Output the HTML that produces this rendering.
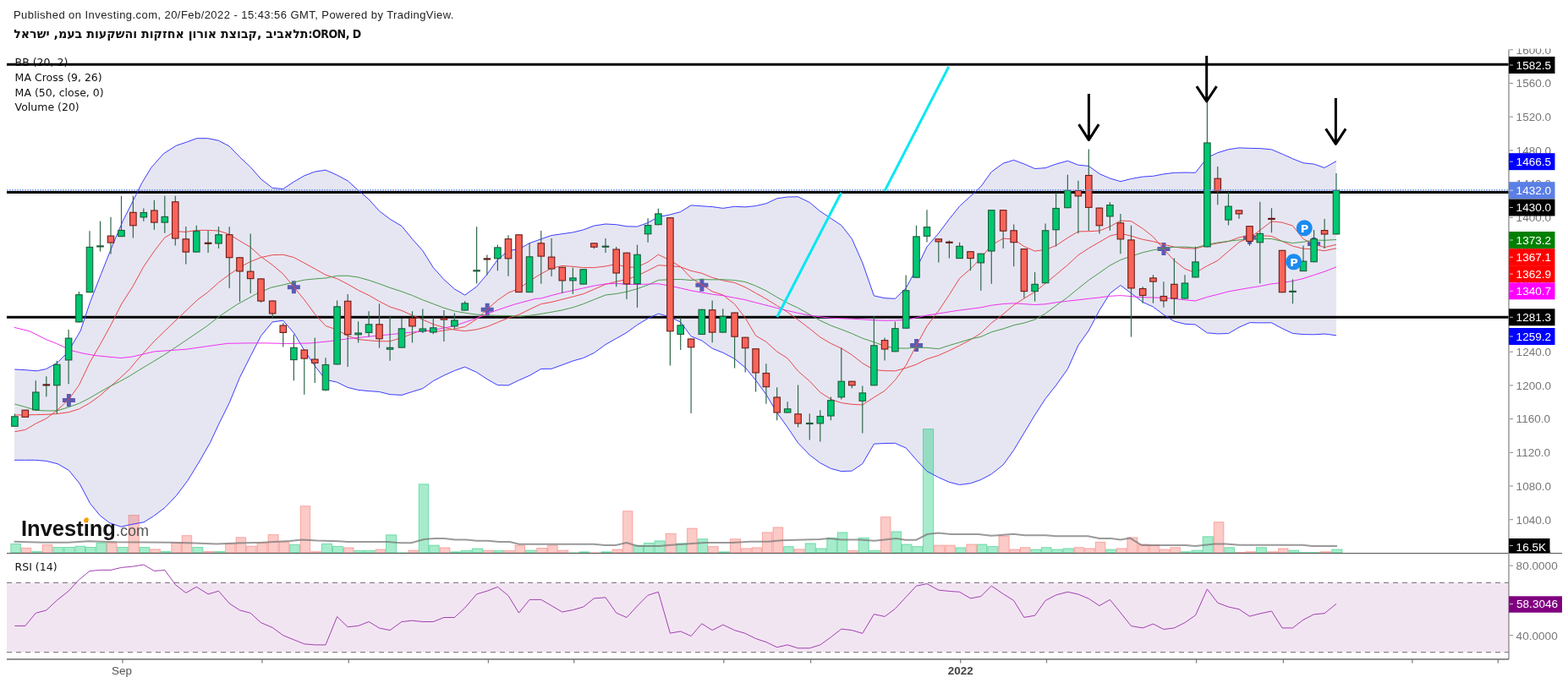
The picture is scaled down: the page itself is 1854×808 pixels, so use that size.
<!DOCTYPE html>
<html><head><meta charset="utf-8"><title>ORON chart</title>
<style>
html,body{margin:0;padding:0;background:#fff;}
body{width:1854px;height:808px;position:relative;overflow:hidden;}
svg{position:absolute;left:0;top:0;}
</style></head>
<body>
<svg width="1854" height="808" viewBox="0 0 1854 808">
<defs><clipPath id="cm"><rect x="8" y="57.5" width="1776" height="596.5"/></clipPath><clipPath id="cr"><rect x="8" y="654.5" width="1776" height="125"/></clipPath><clipPath id="ca"><rect x="1784" y="57.5" width="70" height="596.5"/></clipPath></defs>
<g clip-path="url(#cm)">
<polygon points="17.3,437.0 30.3,437.7 43.3,438.8 54.4,436.6 67.4,429.5 80.4,416.5 95.2,391.3 106.4,357.9 119.4,324.5 134.2,287.3 145.3,261.4 156.5,239.1 167.6,216.8 178.8,198.3 193.6,181.6 208.4,172.3 221.4,167.8 232.6,163.7 245.6,163.7 258.5,166.3 271.2,173.1 283.5,185.8 296.2,197.7 308.5,211.8 322.2,222.4 334.8,223.5 347.4,215.1 359.8,207.9 372.3,203.1 385.0,201.2 398.6,207.2 411.2,213.9 423.6,225.2 436.1,235.9 448.5,249.6 461.1,259.2 475.0,267.5 487.5,282.8 499.8,296.6 512.3,316.6 524.9,330.6 537.4,341.9 549.7,349.1 563.6,339.1 575.9,324.5 588.4,307.3 601.0,296.5 613.5,294.8 626.1,287.7 639.8,282.8 652.1,278.5 664.8,276.7 677.4,274.9 689.7,271.9 702.4,267.1 716.0,265.0 728.7,265.7 741.0,267.8 753.5,268.1 766.1,263.5 778.4,256.6 792.4,253.9 804.7,250.6 817.1,242.9 829.8,243.8 842.2,244.6 854.8,246.4 868.6,244.3 881.2,244.9 893.6,243.6 905.9,240.8 918.7,234.8 931.2,233.0 943.6,232.8 957.3,239.5 969.8,250.0 982.4,258.4 994.8,266.5 1007.3,282.5 1019.8,310.9 1033.4,349.9 1046.1,352.7 1058.4,353.3 1071.2,340.9 1083.5,318.1 1096.0,292.0 1109.8,276.0 1122.4,259.2 1134.6,244.0 1147.5,232.1 1159.8,220.7 1172.3,203.3 1186.2,193.2 1198.7,189.4 1210.9,194.0 1223.6,199.5 1236.1,198.7 1248.6,194.1 1262.4,190.3 1274.9,195.2 1287.3,196.4 1299.9,205.6 1312.4,211.0 1324.9,214.7 1337.5,211.5 1351.2,209.1 1363.5,208.3 1375.9,205.9 1388.4,204.4 1401.0,204.1 1413.5,204.3 1427.4,186.5 1439.8,180.7 1452.5,176.8 1465.0,174.9 1477.5,175.4 1489.8,175.6 1503.5,176.9 1516.1,182.2 1528.5,187.8 1541.0,192.8 1553.6,194.1 1566.1,198.5 1580.0,190.7 1580.0,396.8 1566.1,395.0 1553.6,395.8 1541.0,395.6 1528.5,394.4 1516.1,388.6 1503.5,381.8 1489.8,381.9 1477.5,381.7 1465.0,387.2 1452.5,394.5 1439.8,394.9 1427.4,393.8 1413.5,384.0 1401.0,383.3 1388.4,380.1 1375.9,372.3 1363.5,363.0 1351.2,357.4 1337.5,346.9 1324.9,337.5 1312.4,347.1 1299.9,367.2 1287.3,391.0 1274.9,408.5 1262.4,436.5 1248.6,455.9 1236.1,471.7 1223.6,491.0 1210.9,512.1 1198.7,532.4 1186.2,549.9 1172.3,560.8 1159.8,567.5 1147.5,571.8 1134.6,573.5 1122.4,570.4 1109.8,564.8 1096.0,557.5 1083.5,544.0 1071.2,529.9 1058.4,524.3 1046.1,524.5 1033.4,525.2 1019.8,548.6 1007.3,557.1 994.8,557.6 982.4,554.3 969.8,547.7 957.3,538.2 943.6,524.0 931.2,505.5 918.7,488.2 905.9,466.7 893.6,449.8 881.2,434.8 868.6,424.5 854.8,417.2 842.2,412.2 829.8,402.9 817.1,397.8 804.7,381.1 792.4,375.1 778.4,371.1 766.1,376.7 753.5,384.3 741.0,393.4 728.7,400.4 716.0,407.6 702.4,417.5 689.7,423.5 677.4,427.0 664.8,431.7 652.1,436.3 639.8,436.4 626.1,444.3 613.5,449.8 601.0,455.9 588.4,455.6 575.9,448.5 563.6,440.4 549.7,434.1 537.4,438.5 524.9,444.1 512.3,450.7 499.8,459.6 487.5,463.4 475.0,467.4 461.1,466.7 448.5,463.5 436.1,462.6 423.6,461.4 411.2,458.4 398.6,452.2 385.0,449.2 372.3,432.9 359.8,414.3 347.4,393.8 334.8,379.2 322.2,380.9 308.5,397.4 296.2,421.4 283.5,446.6 271.2,476.5 258.5,502.1 248.5,523.6 235.1,547.0 221.8,568.7 208.4,586.4 195.0,600.5 181.7,610.5 170.0,617.8 155.0,620.5 143.3,623.2 129.9,618.8 118.2,609.8 106.5,595.5 94.2,572.1 81.5,556.4 68.1,548.7 54.8,545.4 41.4,544.3 29.7,544.3 17.0,544.3" fill="#e6e6f2"/>
<rect x="12.8" y="643.4" width="11.5" height="10.6" fill="rgba(0,200,110,0.35)" stroke="rgba(0,190,100,0.45)" stroke-width="1"/>
<rect x="25.3" y="648.3" width="11.4" height="5.7" fill="rgba(245,80,70,0.3)" stroke="rgba(240,80,70,0.4)" stroke-width="1"/>
<rect x="37.8" y="652.4" width="11.5" height="1.6" fill="rgba(0,200,110,0.35)" stroke="rgba(0,190,100,0.45)" stroke-width="1"/>
<rect x="50.2" y="644.4" width="11.5" height="9.6" fill="rgba(245,80,70,0.3)" stroke="rgba(240,80,70,0.4)" stroke-width="1"/>
<rect x="62.8" y="647.5" width="12.1" height="6.5" fill="rgba(0,200,110,0.35)" stroke="rgba(0,190,100,0.45)" stroke-width="1"/>
<rect x="75.9" y="647.5" width="12.1" height="6.5" fill="rgba(0,200,110,0.35)" stroke="rgba(0,190,100,0.45)" stroke-width="1"/>
<rect x="89.0" y="646.2" width="11.5" height="7.8" fill="rgba(0,200,110,0.35)" stroke="rgba(0,190,100,0.45)" stroke-width="1"/>
<rect x="101.4" y="647.5" width="11.5" height="6.5" fill="rgba(0,200,110,0.35)" stroke="rgba(0,190,100,0.45)" stroke-width="1"/>
<rect x="114.0" y="642.3" width="11.5" height="11.7" fill="rgba(0,200,110,0.35)" stroke="rgba(0,190,100,0.45)" stroke-width="1"/>
<rect x="126.5" y="642.3" width="11.5" height="11.7" fill="rgba(245,80,70,0.3)" stroke="rgba(240,80,70,0.4)" stroke-width="1"/>
<rect x="138.9" y="647.5" width="12.2" height="6.5" fill="rgba(0,200,110,0.35)" stroke="rgba(0,190,100,0.45)" stroke-width="1"/>
<rect x="152.1" y="609.5" width="12.2" height="44.5" fill="rgba(245,80,70,0.3)" stroke="rgba(240,80,70,0.4)" stroke-width="1"/>
<rect x="165.3" y="647.5" width="11.5" height="6.5" fill="rgba(0,200,110,0.35)" stroke="rgba(0,190,100,0.45)" stroke-width="1"/>
<rect x="177.8" y="649.8" width="11.5" height="4.2" fill="rgba(245,80,70,0.3)" stroke="rgba(240,80,70,0.4)" stroke-width="1"/>
<rect x="190.3" y="652.4" width="11.4" height="1.6" fill="rgba(0,200,110,0.35)" stroke="rgba(0,190,100,0.45)" stroke-width="1"/>
<rect x="202.8" y="642.3" width="11.5" height="11.7" fill="rgba(245,80,70,0.3)" stroke="rgba(240,80,70,0.4)" stroke-width="1"/>
<rect x="215.2" y="633.6" width="11.5" height="20.4" fill="rgba(245,80,70,0.3)" stroke="rgba(240,80,70,0.4)" stroke-width="1"/>
<rect x="227.8" y="647.5" width="12.1" height="6.5" fill="rgba(0,200,110,0.35)" stroke="rgba(0,190,100,0.45)" stroke-width="1"/>
<rect x="240.9" y="652.4" width="12.1" height="1.6" fill="rgba(245,80,70,0.3)" stroke="rgba(240,80,70,0.4)" stroke-width="1"/>
<rect x="254.0" y="652.4" width="11.6" height="1.6" fill="rgba(0,200,110,0.35)" stroke="rgba(0,190,100,0.45)" stroke-width="1"/>
<rect x="266.6" y="643.4" width="11.5" height="10.6" fill="rgba(245,80,70,0.3)" stroke="rgba(240,80,70,0.4)" stroke-width="1"/>
<rect x="279.1" y="635.8" width="11.5" height="18.2" fill="rgba(245,80,70,0.3)" stroke="rgba(240,80,70,0.4)" stroke-width="1"/>
<rect x="291.6" y="646.2" width="11.5" height="7.8" fill="rgba(245,80,70,0.3)" stroke="rgba(240,80,70,0.4)" stroke-width="1"/>
<rect x="304.1" y="642.3" width="12.0" height="11.7" fill="rgba(245,80,70,0.3)" stroke="rgba(240,80,70,0.4)" stroke-width="1"/>
<rect x="317.1" y="632.6" width="12.1" height="21.4" fill="rgba(245,80,70,0.3)" stroke="rgba(240,80,70,0.4)" stroke-width="1"/>
<rect x="330.2" y="641.2" width="11.6" height="12.8" fill="rgba(245,80,70,0.3)" stroke="rgba(240,80,70,0.4)" stroke-width="1"/>
<rect x="342.8" y="644.4" width="11.5" height="9.6" fill="rgba(0,200,110,0.35)" stroke="rgba(0,190,100,0.45)" stroke-width="1"/>
<rect x="355.3" y="598.7" width="11.4" height="55.3" fill="rgba(245,80,70,0.3)" stroke="rgba(240,80,70,0.4)" stroke-width="1"/>
<rect x="367.8" y="652.6" width="11.6" height="1.4" fill="rgba(245,80,70,0.3)" stroke="rgba(240,80,70,0.4)" stroke-width="1"/>
<rect x="380.3" y="643.4" width="12.2" height="10.6" fill="rgba(0,200,110,0.35)" stroke="rgba(0,190,100,0.45)" stroke-width="1"/>
<rect x="393.5" y="646.4" width="12.1" height="7.6" fill="rgba(0,200,110,0.35)" stroke="rgba(0,190,100,0.45)" stroke-width="1"/>
<rect x="406.6" y="647.9" width="11.5" height="6.1" fill="rgba(245,80,70,0.3)" stroke="rgba(240,80,70,0.4)" stroke-width="1"/>
<rect x="419.1" y="651.5" width="11.5" height="2.5" fill="rgba(0,200,110,0.35)" stroke="rgba(0,190,100,0.45)" stroke-width="1"/>
<rect x="431.6" y="651.5" width="11.4" height="2.5" fill="rgba(0,200,110,0.35)" stroke="rgba(0,190,100,0.45)" stroke-width="1"/>
<rect x="444.0" y="650.0" width="11.5" height="4.0" fill="rgba(245,80,70,0.3)" stroke="rgba(240,80,70,0.4)" stroke-width="1"/>
<rect x="456.5" y="632.8" width="12.2" height="21.2" fill="rgba(0,200,110,0.35)" stroke="rgba(0,190,100,0.45)" stroke-width="1"/>
<rect x="469.8" y="653.9" width="12.2" height="0.5" fill="rgba(0,200,110,0.35)" stroke="rgba(0,190,100,0.45)" stroke-width="1"/>
<rect x="482.9" y="651.1" width="11.4" height="2.9" fill="rgba(245,80,70,0.3)" stroke="rgba(240,80,70,0.4)" stroke-width="1"/>
<rect x="495.3" y="572.8" width="11.4" height="81.2" fill="rgba(0,200,110,0.35)" stroke="rgba(0,190,100,0.45)" stroke-width="1"/>
<rect x="507.7" y="645.1" width="11.5" height="8.9" fill="rgba(0,200,110,0.35)" stroke="rgba(0,190,100,0.45)" stroke-width="1"/>
<rect x="520.3" y="647.9" width="11.6" height="6.1" fill="rgba(245,80,70,0.3)" stroke="rgba(240,80,70,0.4)" stroke-width="1"/>
<rect x="532.9" y="652.8" width="11.4" height="1.2" fill="rgba(0,200,110,0.35)" stroke="rgba(0,190,100,0.45)" stroke-width="1"/>
<rect x="545.2" y="651.5" width="12.1" height="2.5" fill="rgba(0,200,110,0.35)" stroke="rgba(0,190,100,0.45)" stroke-width="1"/>
<rect x="558.4" y="649.0" width="12.1" height="5.0" fill="rgba(0,200,110,0.35)" stroke="rgba(0,190,100,0.45)" stroke-width="1"/>
<rect x="571.5" y="651.1" width="11.4" height="2.9" fill="rgba(245,80,70,0.3)" stroke="rgba(240,80,70,0.4)" stroke-width="1"/>
<rect x="583.9" y="651.5" width="11.6" height="2.5" fill="rgba(0,200,110,0.35)" stroke="rgba(0,190,100,0.45)" stroke-width="1"/>
<rect x="596.4" y="651.5" width="11.5" height="2.5" fill="rgba(245,80,70,0.3)" stroke="rgba(240,80,70,0.4)" stroke-width="1"/>
<rect x="609.0" y="645.1" width="11.5" height="8.9" fill="rgba(245,80,70,0.3)" stroke="rgba(240,80,70,0.4)" stroke-width="1"/>
<rect x="621.5" y="651.1" width="12.2" height="2.9" fill="rgba(0,200,110,0.35)" stroke="rgba(0,190,100,0.45)" stroke-width="1"/>
<rect x="634.7" y="648.5" width="12.0" height="5.5" fill="rgba(245,80,70,0.3)" stroke="rgba(240,80,70,0.4)" stroke-width="1"/>
<rect x="647.7" y="645.1" width="11.5" height="8.9" fill="rgba(245,80,70,0.3)" stroke="rgba(240,80,70,0.4)" stroke-width="1"/>
<rect x="660.2" y="651.1" width="11.6" height="2.9" fill="rgba(245,80,70,0.3)" stroke="rgba(240,80,70,0.4)" stroke-width="1"/>
<rect x="672.8" y="653.9" width="11.5" height="0.5" fill="rgba(0,200,110,0.35)" stroke="rgba(0,190,100,0.45)" stroke-width="1"/>
<rect x="685.2" y="652.8" width="11.5" height="1.2" fill="rgba(0,200,110,0.35)" stroke="rgba(0,190,100,0.45)" stroke-width="1"/>
<rect x="697.8" y="653.9" width="12.2" height="0.5" fill="rgba(245,80,70,0.3)" stroke="rgba(240,80,70,0.4)" stroke-width="1"/>
<rect x="710.9" y="652.8" width="12.1" height="1.2" fill="rgba(0,200,110,0.35)" stroke="rgba(0,190,100,0.45)" stroke-width="1"/>
<rect x="724.1" y="650.0" width="11.5" height="4.0" fill="rgba(245,80,70,0.3)" stroke="rgba(240,80,70,0.4)" stroke-width="1"/>
<rect x="736.6" y="604.7" width="11.4" height="49.3" fill="rgba(245,80,70,0.3)" stroke="rgba(240,80,70,0.4)" stroke-width="1"/>
<rect x="749.0" y="645.1" width="11.5" height="8.9" fill="rgba(0,200,110,0.35)" stroke="rgba(0,190,100,0.45)" stroke-width="1"/>
<rect x="761.5" y="642.5" width="11.5" height="11.5" fill="rgba(0,200,110,0.35)" stroke="rgba(0,190,100,0.45)" stroke-width="1"/>
<rect x="774.0" y="639.9" width="12.1" height="14.1" fill="rgba(0,200,110,0.35)" stroke="rgba(0,190,100,0.45)" stroke-width="1"/>
<rect x="787.1" y="631.3" width="12.1" height="22.7" fill="rgba(245,80,70,0.3)" stroke="rgba(240,80,70,0.4)" stroke-width="1"/>
<rect x="800.2" y="642.9" width="11.4" height="11.1" fill="rgba(0,200,110,0.35)" stroke="rgba(0,190,100,0.45)" stroke-width="1"/>
<rect x="812.6" y="625.0" width="11.5" height="29.0" fill="rgba(245,80,70,0.3)" stroke="rgba(240,80,70,0.4)" stroke-width="1"/>
<rect x="825.2" y="637.7" width="11.5" height="16.3" fill="rgba(0,200,110,0.35)" stroke="rgba(0,190,100,0.45)" stroke-width="1"/>
<rect x="837.7" y="646.6" width="11.5" height="7.4" fill="rgba(245,80,70,0.3)" stroke="rgba(240,80,70,0.4)" stroke-width="1"/>
<rect x="850.2" y="652.8" width="12.2" height="1.2" fill="rgba(0,200,110,0.35)" stroke="rgba(0,190,100,0.45)" stroke-width="1"/>
<rect x="863.4" y="637.7" width="12.2" height="16.3" fill="rgba(245,80,70,0.3)" stroke="rgba(240,80,70,0.4)" stroke-width="1"/>
<rect x="876.6" y="648.9" width="11.5" height="5.1" fill="rgba(245,80,70,0.3)" stroke="rgba(240,80,70,0.4)" stroke-width="1"/>
<rect x="889.1" y="647.9" width="11.3" height="6.1" fill="rgba(245,80,70,0.3)" stroke="rgba(240,80,70,0.4)" stroke-width="1"/>
<rect x="901.5" y="629.9" width="11.5" height="24.1" fill="rgba(245,80,70,0.3)" stroke="rgba(240,80,70,0.4)" stroke-width="1"/>
<rect x="914.0" y="623.9" width="11.7" height="30.1" fill="rgba(245,80,70,0.3)" stroke="rgba(240,80,70,0.4)" stroke-width="1"/>
<rect x="926.7" y="646.6" width="11.5" height="7.4" fill="rgba(0,200,110,0.35)" stroke="rgba(0,190,100,0.45)" stroke-width="1"/>
<rect x="939.1" y="649.8" width="12.0" height="4.2" fill="rgba(245,80,70,0.3)" stroke="rgba(240,80,70,0.4)" stroke-width="1"/>
<rect x="952.2" y="642.9" width="12.1" height="11.1" fill="rgba(0,200,110,0.35)" stroke="rgba(0,190,100,0.45)" stroke-width="1"/>
<rect x="965.2" y="648.9" width="11.5" height="5.1" fill="rgba(0,200,110,0.35)" stroke="rgba(0,190,100,0.45)" stroke-width="1"/>
<rect x="977.8" y="636.4" width="11.5" height="17.6" fill="rgba(0,200,110,0.35)" stroke="rgba(0,190,100,0.45)" stroke-width="1"/>
<rect x="990.3" y="629.9" width="11.5" height="24.1" fill="rgba(0,200,110,0.35)" stroke="rgba(0,190,100,0.45)" stroke-width="1"/>
<rect x="1002.8" y="651.5" width="11.5" height="2.5" fill="rgba(245,80,70,0.3)" stroke="rgba(240,80,70,0.4)" stroke-width="1"/>
<rect x="1015.2" y="636.4" width="12.0" height="17.6" fill="rgba(0,200,110,0.35)" stroke="rgba(0,190,100,0.45)" stroke-width="1"/>
<rect x="1028.3" y="651.5" width="12.2" height="2.5" fill="rgba(0,200,110,0.35)" stroke="rgba(0,190,100,0.45)" stroke-width="1"/>
<rect x="1041.5" y="611.6" width="11.5" height="42.4" fill="rgba(245,80,70,0.3)" stroke="rgba(240,80,70,0.4)" stroke-width="1"/>
<rect x="1054.0" y="628.9" width="11.6" height="25.1" fill="rgba(0,200,110,0.35)" stroke="rgba(0,190,100,0.45)" stroke-width="1"/>
<rect x="1066.5" y="644.0" width="11.5" height="10.0" fill="rgba(0,200,110,0.35)" stroke="rgba(0,190,100,0.45)" stroke-width="1"/>
<rect x="1079.0" y="646.6" width="11.4" height="7.4" fill="rgba(0,200,110,0.35)" stroke="rgba(0,190,100,0.45)" stroke-width="1"/>
<rect x="1091.5" y="507.6" width="12.2" height="146.4" fill="rgba(0,200,110,0.35)" stroke="rgba(0,190,100,0.45)" stroke-width="1"/>
<rect x="1104.6" y="645.1" width="12.2" height="8.9" fill="rgba(245,80,70,0.3)" stroke="rgba(240,80,70,0.4)" stroke-width="1"/>
<rect x="1117.8" y="645.1" width="11.4" height="8.9" fill="rgba(245,80,70,0.3)" stroke="rgba(240,80,70,0.4)" stroke-width="1"/>
<rect x="1130.2" y="647.9" width="11.5" height="6.1" fill="rgba(0,200,110,0.35)" stroke="rgba(0,190,100,0.45)" stroke-width="1"/>
<rect x="1142.8" y="644.0" width="11.6" height="10.0" fill="rgba(245,80,70,0.3)" stroke="rgba(240,80,70,0.4)" stroke-width="1"/>
<rect x="1155.4" y="644.0" width="11.4" height="10.0" fill="rgba(0,200,110,0.35)" stroke="rgba(0,190,100,0.45)" stroke-width="1"/>
<rect x="1167.8" y="646.6" width="12.2" height="7.4" fill="rgba(0,200,110,0.35)" stroke="rgba(0,190,100,0.45)" stroke-width="1"/>
<rect x="1181.0" y="634.0" width="12.2" height="20.0" fill="rgba(245,80,70,0.3)" stroke="rgba(240,80,70,0.4)" stroke-width="1"/>
<rect x="1194.2" y="650.0" width="11.4" height="4.0" fill="rgba(245,80,70,0.3)" stroke="rgba(240,80,70,0.4)" stroke-width="1"/>
<rect x="1206.5" y="647.7" width="11.4" height="6.3" fill="rgba(245,80,70,0.3)" stroke="rgba(240,80,70,0.4)" stroke-width="1"/>
<rect x="1219.0" y="650.0" width="11.6" height="4.0" fill="rgba(0,200,110,0.35)" stroke="rgba(0,190,100,0.45)" stroke-width="1"/>
<rect x="1231.5" y="647.7" width="11.5" height="6.3" fill="rgba(0,200,110,0.35)" stroke="rgba(0,190,100,0.45)" stroke-width="1"/>
<rect x="1244.0" y="650.0" width="12.2" height="4.0" fill="rgba(0,200,110,0.35)" stroke="rgba(0,190,100,0.45)" stroke-width="1"/>
<rect x="1257.2" y="648.9" width="12.2" height="5.1" fill="rgba(0,200,110,0.35)" stroke="rgba(0,190,100,0.45)" stroke-width="1"/>
<rect x="1270.4" y="647.7" width="11.4" height="6.3" fill="rgba(245,80,70,0.3)" stroke="rgba(240,80,70,0.4)" stroke-width="1"/>
<rect x="1282.8" y="648.9" width="11.5" height="5.1" fill="rgba(245,80,70,0.3)" stroke="rgba(240,80,70,0.4)" stroke-width="1"/>
<rect x="1295.3" y="641.4" width="11.6" height="12.6" fill="rgba(245,80,70,0.3)" stroke="rgba(240,80,70,0.4)" stroke-width="1"/>
<rect x="1307.9" y="650.0" width="11.5" height="4.0" fill="rgba(0,200,110,0.35)" stroke="rgba(0,190,100,0.45)" stroke-width="1"/>
<rect x="1320.4" y="648.9" width="11.5" height="5.1" fill="rgba(245,80,70,0.3)" stroke="rgba(240,80,70,0.4)" stroke-width="1"/>
<rect x="1332.9" y="635.9" width="12.1" height="18.1" fill="rgba(245,80,70,0.3)" stroke="rgba(240,80,70,0.4)" stroke-width="1"/>
<rect x="1346.0" y="643.9" width="12.0" height="10.1" fill="rgba(245,80,70,0.3)" stroke="rgba(240,80,70,0.4)" stroke-width="1"/>
<rect x="1359.0" y="644.8" width="11.4" height="9.2" fill="rgba(245,80,70,0.3)" stroke="rgba(240,80,70,0.4)" stroke-width="1"/>
<rect x="1371.4" y="650.0" width="11.5" height="4.0" fill="rgba(245,80,70,0.3)" stroke="rgba(240,80,70,0.4)" stroke-width="1"/>
<rect x="1383.9" y="647.7" width="11.5" height="6.3" fill="rgba(245,80,70,0.3)" stroke="rgba(240,80,70,0.4)" stroke-width="1"/>
<rect x="1396.4" y="652.7" width="11.5" height="1.3" fill="rgba(0,200,110,0.35)" stroke="rgba(0,190,100,0.45)" stroke-width="1"/>
<rect x="1409.0" y="651.1" width="12.2" height="2.9" fill="rgba(0,200,110,0.35)" stroke="rgba(0,190,100,0.45)" stroke-width="1"/>
<rect x="1422.2" y="634.8" width="12.1" height="19.2" fill="rgba(0,200,110,0.35)" stroke="rgba(0,190,100,0.45)" stroke-width="1"/>
<rect x="1435.3" y="617.6" width="11.6" height="36.4" fill="rgba(245,80,70,0.3)" stroke="rgba(240,80,70,0.4)" stroke-width="1"/>
<rect x="1447.9" y="647.7" width="11.6" height="6.3" fill="rgba(0,200,110,0.35)" stroke="rgba(0,190,100,0.45)" stroke-width="1"/>
<rect x="1460.5" y="653.4" width="11.5" height="0.6" fill="rgba(245,80,70,0.3)" stroke="rgba(240,80,70,0.4)" stroke-width="1"/>
<rect x="1473.0" y="652.7" width="11.4" height="1.3" fill="rgba(245,80,70,0.3)" stroke="rgba(240,80,70,0.4)" stroke-width="1"/>
<rect x="1485.4" y="647.7" width="12.0" height="6.3" fill="rgba(0,200,110,0.35)" stroke="rgba(0,190,100,0.45)" stroke-width="1"/>
<rect x="1498.4" y="652.7" width="12.1" height="1.3" fill="rgba(245,80,70,0.3)" stroke="rgba(240,80,70,0.4)" stroke-width="1"/>
<rect x="1511.5" y="648.9" width="11.5" height="5.1" fill="rgba(245,80,70,0.3)" stroke="rgba(240,80,70,0.4)" stroke-width="1"/>
<rect x="1524.0" y="651.1" width="11.5" height="2.9" fill="rgba(0,200,110,0.35)" stroke="rgba(0,190,100,0.45)" stroke-width="1"/>
<rect x="1536.5" y="653.6" width="11.5" height="0.5" fill="rgba(0,200,110,0.35)" stroke="rgba(0,190,100,0.45)" stroke-width="1"/>
<rect x="1549.0" y="653.6" width="11.5" height="0.5" fill="rgba(0,200,110,0.35)" stroke="rgba(0,190,100,0.45)" stroke-width="1"/>
<rect x="1561.5" y="652.7" width="12.2" height="1.3" fill="rgba(245,80,70,0.3)" stroke="rgba(240,80,70,0.4)" stroke-width="1"/>
<rect x="1574.8" y="650.0" width="12.2" height="4.0" fill="rgba(0,200,110,0.35)" stroke="rgba(0,190,100,0.45)" stroke-width="1"/>
<polyline points="16.6,640.7 51.2,641.8 80.0,641.8 105.0,640.3 137.4,641.3 202.0,641.8 230.0,642.5 256.0,643.5 280.0,642.5 310.0,641.8 342.4,640.0 357.5,638.5 374.8,639.6 400.0,640.2 410.8,641.1 458.3,641.1 473.4,642.2 486.3,642.2 501.4,638.1 514.3,637.0 525.1,637.0 538.1,638.5 551.0,638.5 564.0,639.8 576.9,639.8 589.9,641.1 602.8,641.1 613.6,643.7 626.5,643.7 702.0,643.7 715.0,645.0 728.0,645.0 740.9,642.0 753.8,645.9 779.7,645.9 790.0,645.0 811.6,643.5 833.1,642.0 865.5,642.0 887.1,640.7 908.7,640.7 923.8,639.2 969.1,638.1 979.9,637.0 995.0,638.5 1016.5,638.5 1033.8,639.8 1059.7,637.0 1070.5,638.7 1083.4,638.7 1096.4,632.0 1109.3,630.5 1124.4,632.0 1156.8,632.0 1171.9,633.8 1180.0,633.2 1198.0,631.8 1211.7,633.2 1236.6,633.2 1248.0,634.3 1286.5,634.3 1300.0,637.0 1313.7,637.0 1325.0,638.6 1336.3,636.6 1349.9,645.0 1372.6,645.0 1402.0,645.0 1413.3,646.1 1424.7,644.7 1436.0,643.4 1449.6,643.4 1465.5,644.7 1540.2,644.7 1551.5,646.1 1581.0,646.1" fill="none" stroke="rgba(120,120,120,0.75)" stroke-width="2"/>
<line x1="8" x2="1784" y1="76.2" y2="76.2" stroke="#000" stroke-width="3"/>
<line x1="8" x2="1784" y1="227.5" y2="227.5" stroke="#000" stroke-width="3"/>
<line x1="8" x2="1784" y1="375.2" y2="375.2" stroke="#000" stroke-width="3"/>
<path d="M73.9 471.0h15v5h-15z M78.9 466.0h5v15h-5z" fill="rgba(60,60,165,0.82)"/>
<path d="M339.9 337.2h15v5h-15z M344.9 332.2h5v15h-5z" fill="rgba(60,60,165,0.82)"/>
<path d="M568.7 363.8h15v5h-15z M573.7 358.8h5v15h-5z" fill="rgba(60,60,165,0.82)"/>
<path d="M822.4 334.8h15v5h-15z M827.4 329.8h5v15h-5z" fill="rgba(60,60,165,0.82)"/>
<path d="M1076.1 406.0h15v5h-15z M1081.1 401.0h5v15h-5z" fill="rgba(60,60,165,0.82)"/>
<path d="M1368.5 292.1h15v5h-15z M1373.5 287.1h5v15h-5z" fill="rgba(60,60,165,0.82)"/>
<path d="M1470.0 278.8h15v5h-15z M1475.0 273.8h5v15h-5z" fill="rgba(60,60,165,0.82)"/>
<path d="M1546.1 285.9h15v5h-15z M1551.1 280.9h5v15h-5z" fill="rgba(60,60,165,0.82)"/>
<polyline points="17.3,437.0 30.3,437.7 43.3,438.8 54.4,436.6 67.4,429.5 80.4,416.5 95.2,391.3 106.4,357.9 119.4,324.5 134.2,287.3 145.3,261.4 156.5,239.1 167.6,216.8 178.8,198.3 193.6,181.6 208.4,172.3 221.4,167.8 232.6,163.7 245.6,163.7 258.5,166.3 271.2,173.1 283.5,185.8 296.2,197.7 308.5,211.8 322.2,222.4 334.8,223.5 347.4,215.1 359.8,207.9 372.3,203.1 385.0,201.2 398.6,207.2 411.2,213.9 423.6,225.2 436.1,235.9 448.5,249.6 461.1,259.2 475.0,267.5 487.5,282.8 499.8,296.6 512.3,316.6 524.9,330.6 537.4,341.9 549.7,349.1 563.6,339.1 575.9,324.5 588.4,307.3 601.0,296.5 613.5,294.8 626.1,287.7 639.8,282.8 652.1,278.5 664.8,276.7 677.4,274.9 689.7,271.9 702.4,267.1 716.0,265.0 728.7,265.7 741.0,267.8 753.5,268.1 766.1,263.5 778.4,256.6 792.4,253.9 804.7,250.6 817.1,242.9 829.8,243.8 842.2,244.6 854.8,246.4 868.6,244.3 881.2,244.9 893.6,243.6 905.9,240.8 918.7,234.8 931.2,233.0 943.6,232.8 957.3,239.5 969.8,250.0 982.4,258.4 994.8,266.5 1007.3,282.5 1019.8,310.9 1033.4,349.9 1046.1,352.7 1058.4,353.3 1071.2,340.9 1083.5,318.1 1096.0,292.0 1109.8,276.0 1122.4,259.2 1134.6,244.0 1147.5,232.1 1159.8,220.7 1172.3,203.3 1186.2,193.2 1198.7,189.4 1210.9,194.0 1223.6,199.5 1236.1,198.7 1248.6,194.1 1262.4,190.3 1274.9,195.2 1287.3,196.4 1299.9,205.6 1312.4,211.0 1324.9,214.7 1337.5,211.5 1351.2,209.1 1363.5,208.3 1375.9,205.9 1388.4,204.4 1401.0,204.1 1413.5,204.3 1427.4,186.5 1439.8,180.7 1452.5,176.8 1465.0,174.9 1477.5,175.4 1489.8,175.6 1503.5,176.9 1516.1,182.2 1528.5,187.8 1541.0,192.8 1553.6,194.1 1566.1,198.5 1580.0,190.7" fill="none" stroke="#3c3cff" stroke-width="1"/>
<polyline points="17.0,544.3 29.7,544.3 41.4,544.3 54.8,545.4 68.1,548.7 81.5,556.4 94.2,572.1 106.5,595.5 118.2,609.8 129.9,618.8 143.3,623.2 155.0,620.5 170.0,617.8 181.7,610.5 195.0,600.5 208.4,586.4 221.8,568.7 235.1,547.0 248.5,523.6 258.5,502.1 271.2,476.5 283.5,446.6 296.2,421.4 308.5,397.4 322.2,380.9 334.8,379.2 347.4,393.8 359.8,414.3 372.3,432.9 385.0,449.2 398.6,452.2 411.2,458.4 423.6,461.4 436.1,462.6 448.5,463.5 461.1,466.7 475.0,467.4 487.5,463.4 499.8,459.6 512.3,450.7 524.9,444.1 537.4,438.5 549.7,434.1 563.6,440.4 575.9,448.5 588.4,455.6 601.0,455.9 613.5,449.8 626.1,444.3 639.8,436.4 652.1,436.3 664.8,431.7 677.4,427.0 689.7,423.5 702.4,417.5 716.0,407.6 728.7,400.4 741.0,393.4 753.5,384.3 766.1,376.7 778.4,371.1 792.4,375.1 804.7,381.1 817.1,397.8 829.8,402.9 842.2,412.2 854.8,417.2 868.6,424.5 881.2,434.8 893.6,449.8 905.9,466.7 918.7,488.2 931.2,505.5 943.6,524.0 957.3,538.2 969.8,547.7 982.4,554.3 994.8,557.6 1007.3,557.1 1019.8,548.6 1033.4,525.2 1046.1,524.5 1058.4,524.3 1071.2,529.9 1083.5,544.0 1096.0,557.5 1109.8,564.8 1122.4,570.4 1134.6,573.5 1147.5,571.8 1159.8,567.5 1172.3,560.8 1186.2,549.9 1198.7,532.4 1210.9,512.1 1223.6,491.0 1236.1,471.7 1248.6,455.9 1262.4,436.5 1274.9,408.5 1287.3,391.0 1299.9,367.2 1312.4,347.1 1324.9,337.5 1337.5,346.9 1351.2,357.4 1363.5,363.0 1375.9,372.3 1388.4,380.1 1401.0,383.3 1413.5,384.0 1427.4,393.8 1439.8,394.9 1452.5,394.5 1465.0,387.2 1477.5,381.7 1489.8,381.9 1503.5,381.8 1516.1,388.6 1528.5,394.4 1541.0,395.6 1553.6,395.8 1566.1,395.0 1580.0,396.8" fill="none" stroke="#3c3cff" stroke-width="1"/>
<polyline points="17.4,490.9 29.8,490.9 42.5,490.6 54.8,490.3 67.4,489.6 81.1,487.7 93.4,483.9 105.3,477.3 117.9,468.3 129.8,457.9 141.7,447.5 153.6,436.4 160.0,428.5 168.0,419.5 182.3,403.7 209.0,378.0 233.5,354.7 245.7,345.7 258.5,334.2 271.2,324.8 283.5,316.2 296.2,309.5 308.5,304.6 322.2,301.6 334.8,301.3 347.4,304.5 359.8,311.1 372.3,318.0 385.0,325.2 398.6,329.7 411.2,336.2 423.6,343.3 436.1,349.3 448.5,356.5 461.1,363.0 475.0,367.4 487.5,373.1 499.8,378.1 512.3,383.6 524.9,387.3 537.4,390.2 549.7,391.6 563.6,389.8 575.9,386.5 588.4,381.4 601.0,376.2 613.5,372.3 626.1,366.0 639.8,359.6 652.1,357.4 664.8,354.2 677.4,351.0 689.7,347.7 702.4,342.3 716.0,336.3 728.7,333.1 741.0,330.6 753.5,326.2 766.1,320.1 778.4,313.8 792.4,314.5 804.7,315.8 817.1,320.4 829.8,323.3 842.2,328.4 854.8,331.8 868.6,334.4 881.2,339.8 893.6,346.7 905.9,353.7 918.7,361.5 931.2,369.3 943.6,378.4 957.3,388.8 969.8,398.9 982.4,406.3 994.8,412.1 1007.3,419.8 1019.8,429.7 1033.4,437.5 1046.1,438.6 1058.4,438.8 1071.2,435.4 1083.5,431.1 1096.0,424.8 1109.8,420.4 1122.4,414.8 1134.6,408.8 1147.5,402.0 1159.8,394.1 1172.3,382.1 1186.2,371.6 1198.7,360.9 1210.9,353.1 1223.6,345.3 1236.1,335.2 1248.6,325.0 1262.4,313.4 1274.9,301.8 1287.3,293.7 1299.9,286.4 1312.4,279.1 1324.9,276.1 1337.5,279.2 1351.2,283.3 1363.5,285.6 1375.9,289.1 1388.4,292.2 1401.0,293.7 1413.5,294.1 1427.4,290.2 1439.8,287.8 1452.5,285.6 1465.0,281.0 1477.5,278.6 1489.8,278.7 1503.5,279.4 1516.1,285.4 1528.5,291.1 1541.0,294.2 1553.6,294.9 1566.1,296.7 1580.0,293.8" fill="none" stroke="#e8484a" stroke-width="1"/>
<polyline points="17.4,510.7 29.8,508.5 42.5,501.0 54.8,495.1 67.4,485.4 81.1,472.8 93.4,455.7 106.3,428.5 118.5,407.4 131.0,384.7 143.5,360.0 157.4,338.2 169.8,315.5 182.4,297.0 194.8,281.0 207.3,273.7 219.8,274.4 232.3,272.4 246.1,272.4 258.5,273.0 271.2,277.2 283.5,285.0 296.2,292.4 308.5,303.6 322.2,313.5 334.8,324.1 347.4,339.4 359.8,354.6 372.3,371.5 385.0,385.5 398.6,390.1 411.2,397.4 423.6,401.5 436.1,402.8 448.5,403.7 461.1,403.7 475.0,399.6 487.5,394.8 499.8,390.1 512.3,392.9 524.9,390.9 537.4,389.2 549.7,386.5 563.6,377.5 575.9,365.9 588.4,355.2 601.0,346.3 613.5,341.6 626.1,332.3 639.8,323.9 652.1,317.3 664.8,314.4 677.4,315.3 689.7,316.6 702.4,316.6 716.0,315.0 728.7,312.5 741.0,316.2 753.5,315.9 766.1,310.0 778.4,301.1 792.4,308.2 804.7,315.6 817.1,328.8 829.8,337.0 842.2,344.8 854.8,348.9 868.6,359.8 881.2,376.1 893.6,397.1 905.9,404.4 918.7,415.9 931.2,423.9 943.6,439.0 957.3,450.9 969.8,464.1 982.4,472.3 994.8,476.6 1007.3,478.3 1019.8,479.0 1033.4,470.1 1046.1,462.3 1058.4,449.7 1071.2,432.2 1083.5,408.6 1096.0,385.8 1109.8,367.6 1122.4,348.7 1134.6,329.4 1147.5,318.1 1159.8,305.4 1172.3,289.9 1186.2,282.1 1198.7,283.0 1210.9,291.6 1223.6,297.0 1236.1,295.4 1248.6,290.5 1262.4,281.4 1274.9,273.9 1287.3,273.7 1299.9,273.0 1312.4,268.0 1324.9,261.1 1337.5,261.7 1351.2,270.4 1363.5,280.1 1375.9,294.7 1388.4,308.2 1401.0,318.0 1413.5,322.7 1427.4,314.5 1439.8,308.2 1452.5,297.3 1465.0,286.6 1477.5,281.3 1489.8,272.4 1503.5,261.9 1516.1,263.2 1528.5,267.1 1541.0,282.7 1553.6,288.9 1566.1,292.6 1580.0,289.4" fill="none" stroke="#e8484a" stroke-width="1"/>
<polyline points="17.4,478.0 29.8,481.4 42.5,485.4 54.8,485.9 67.4,485.9 81.1,481.7 93.4,477.3 105.3,471.3 117.9,463.9 129.8,457.2 141.7,451.3 153.6,444.6 168.0,435.7 193.4,420.4 220.1,402.5 244.6,385.8 260.2,373.6 280.3,360.2 302.5,348.0 320.4,340.2 334.8,337.0 347.4,333.9 359.8,331.2 372.3,329.9 385.0,329.0 398.6,326.3 411.2,326.2 423.6,328.0 436.1,331.5 448.5,335.7 461.1,340.4 475.0,344.9 487.5,349.5 499.8,354.8 512.3,359.5 524.9,364.3 537.4,368.0 549.7,370.2 563.6,372.1 575.9,372.8 588.4,373.4 601.0,373.4 613.5,374.4 626.1,373.3 639.8,371.3 652.1,369.2 664.8,366.9 677.4,363.7 689.7,359.6 702.4,354.4 716.0,349.0 728.7,347.5 741.0,345.2 753.5,341.6 766.1,337.1 778.4,331.4 792.4,330.7 804.7,330.5 817.1,331.5 829.8,330.6 842.2,330.9 854.8,330.7 868.6,331.5 881.2,333.5 893.6,338.2 905.9,344.0 918.7,351.6 931.2,358.4 943.6,364.3 957.3,371.9 969.8,379.2 982.4,385.1 994.8,389.7 1007.3,394.6 1019.8,400.2 1033.4,404.7 1046.1,409.4 1058.4,411.9 1071.2,412.1 1083.5,411.3 1096.0,411.4 1109.8,412.7 1122.4,408.6 1134.6,405.0 1147.5,401.0 1159.8,398.4 1172.3,392.8 1186.2,389.0 1198.7,384.7 1210.9,382.1 1223.6,378.1 1236.1,370.9 1248.6,361.6 1262.4,351.6 1274.9,341.3 1287.3,331.5 1299.9,322.8 1312.4,314.0 1324.9,307.5 1337.5,303.1 1351.2,298.7 1363.5,295.8 1375.9,293.6 1388.4,292.3 1401.0,292.0 1413.5,293.1 1427.4,289.3 1439.8,287.0 1452.5,285.3 1465.0,283.9 1477.5,283.1 1489.8,282.2 1503.5,282.6 1516.1,285.4 1528.5,287.6 1541.0,286.2 1553.6,284.1 1566.1,284.3 1580.0,283.5" fill="none" stroke="#4a9a4a" stroke-width="1"/>
<polyline points="17.0,387.4 34.7,391.7 54.8,401.7 67.4,406.7 85.3,414.9 97.1,417.8 112.0,420.5 126.9,422.0 143.2,423.5 156.6,422.0 182.3,415.9 220.1,413.2 244.6,409.7 269.1,406.3 293.6,405.9 315.9,405.9 338.2,406.5 366.2,406.0 390.5,403.6 414.7,400.3 439.0,397.9 463.3,395.5 487.5,393.0 511.8,390.6 536.1,385.8 560.4,377.7 584.6,368.0 608.9,359.9 633.2,353.4 639.8,353.0 652.1,349.5 664.8,346.3 677.4,343.6 689.7,340.9 702.4,338.1 716.0,335.9 728.7,335.4 741.0,336.3 753.5,336.5 766.1,336.1 778.4,335.7 792.4,338.2 804.7,340.9 817.1,343.8 829.8,346.0 842.2,348.2 854.8,349.7 868.6,352.3 881.2,354.7 893.6,358.0 905.9,361.1 918.7,364.4 931.2,367.5 943.6,370.4 957.3,373.0 969.8,374.9 982.4,376.2 994.8,376.7 1007.3,377.2 1019.8,377.9 1033.4,378.8 1046.1,379.2 1058.4,379.1 1071.2,378.3 1083.5,375.8 1096.0,373.0 1109.8,370.9 1122.4,368.9 1134.6,367.0 1147.5,365.4 1159.8,363.8 1172.3,361.2 1186.2,359.5 1198.7,358.8 1210.9,359.6 1223.6,360.5 1236.1,359.8 1248.6,357.8 1262.4,356.2 1274.9,354.8 1287.3,353.3 1299.9,352.0 1312.4,350.3 1324.9,349.6 1337.5,350.6 1351.2,351.8 1363.5,352.0 1375.9,352.4 1388.4,353.4 1401.0,354.8 1413.5,355.9 1427.4,351.4 1439.8,348.3 1452.5,344.9 1465.0,342.7 1477.5,340.5 1489.8,338.6 1503.5,335.8 1516.1,334.5 1528.5,332.5 1541.0,329.5 1553.6,325.4 1566.1,321.3 1580.0,315.8" fill="none" stroke="#f030f0" stroke-width="1"/>
<line x1="17.4" x2="17.4" y1="489.5" y2="504.8" stroke="#2f6a4a" stroke-width="1.2"/>
<rect x="13.65" y="492.8" width="7.5" height="11.5" fill="#00c872" stroke="#1e5a3a" stroke-width="1.1"/>
<line x1="29.8" x2="29.8" y1="484.7" y2="493.9" stroke="#2f6a4a" stroke-width="1.2"/>
<rect x="26.05" y="485.2" width="7.5" height="8.2" fill="#f9645a" stroke="#6a1c16" stroke-width="1.1"/>
<line x1="42.3" x2="42.3" y1="450.2" y2="485.4" stroke="#2f6a4a" stroke-width="1.2"/>
<rect x="38.55" y="464.0" width="7.5" height="20.9" fill="#00c872" stroke="#1e5a3a" stroke-width="1.1"/>
<line x1="54.8" x2="54.8" y1="445.2" y2="469.3" stroke="#2f6a4a" stroke-width="1.2"/>
<rect x="50.5" y="454.3" width="8.6" height="2.2" fill="#5e1a14"/>
<line x1="67.3" x2="67.3" y1="426.8" y2="489.5" stroke="#2f6a4a" stroke-width="1.2"/>
<rect x="63.55" y="431.3" width="7.5" height="24.5" fill="#00c872" stroke="#1e5a3a" stroke-width="1.1"/>
<line x1="81.1" x2="81.1" y1="390.0" y2="454.2" stroke="#2f6a4a" stroke-width="1.2"/>
<rect x="77.35" y="400.1" width="7.5" height="25.8" fill="#00c872" stroke="#1e5a3a" stroke-width="1.1"/>
<line x1="93.4" x2="93.4" y1="345.0" y2="381.4" stroke="#2f6a4a" stroke-width="1.2"/>
<rect x="89.65" y="348.7" width="7.5" height="32.2" fill="#00c872" stroke="#1e5a3a" stroke-width="1.1"/>
<line x1="106.0" x2="106.0" y1="273.2" y2="346.2" stroke="#2f6a4a" stroke-width="1.2"/>
<rect x="102.25" y="292.4" width="7.5" height="53.3" fill="#00c872" stroke="#1e5a3a" stroke-width="1.1"/>
<line x1="118.5" x2="118.5" y1="261.6" y2="297.6" stroke="#2f6a4a" stroke-width="1.2"/>
<rect x="114.2" y="290.3" width="8.6" height="2.2" fill="#1e5a3a"/>
<line x1="131.0" x2="131.0" y1="256.7" y2="300.6" stroke="#2f6a4a" stroke-width="1.2"/>
<rect x="127.25" y="279.1" width="7.5" height="8.0" fill="#f9645a" stroke="#6a1c16" stroke-width="1.1"/>
<line x1="143.5" x2="143.5" y1="231.8" y2="280.1" stroke="#2f6a4a" stroke-width="1.2"/>
<rect x="139.75" y="272.5" width="7.5" height="7.1" fill="#00c872" stroke="#1e5a3a" stroke-width="1.1"/>
<line x1="157.4" x2="157.4" y1="231.8" y2="281.5" stroke="#2f6a4a" stroke-width="1.2"/>
<rect x="153.65" y="251.3" width="7.5" height="15.5" fill="#f9645a" stroke="#6a1c16" stroke-width="1.1"/>
<line x1="169.8" x2="169.8" y1="246.6" y2="261.7" stroke="#2f6a4a" stroke-width="1.2"/>
<rect x="166.05" y="251.5" width="7.5" height="5.4" fill="#00c872" stroke="#1e5a3a" stroke-width="1.1"/>
<line x1="182.4" x2="182.4" y1="236.7" y2="271.8" stroke="#2f6a4a" stroke-width="1.2"/>
<rect x="178.65" y="249.0" width="7.5" height="14.1" fill="#f9645a" stroke="#6a1c16" stroke-width="1.1"/>
<line x1="194.8" x2="194.8" y1="231.8" y2="275.7" stroke="#2f6a4a" stroke-width="1.2"/>
<rect x="191.05" y="256.4" width="7.5" height="6.7" fill="#00c872" stroke="#1e5a3a" stroke-width="1.1"/>
<line x1="207.3" x2="207.3" y1="231.8" y2="290.6" stroke="#2f6a4a" stroke-width="1.2"/>
<rect x="203.55" y="238.8" width="7.5" height="43.2" fill="#f9645a" stroke="#6a1c16" stroke-width="1.1"/>
<line x1="219.8" x2="219.8" y1="268.0" y2="312.6" stroke="#2f6a4a" stroke-width="1.2"/>
<rect x="216.05" y="282.8" width="7.5" height="15.3" fill="#f9645a" stroke="#6a1c16" stroke-width="1.1"/>
<line x1="232.3" x2="232.3" y1="266.8" y2="298.6" stroke="#2f6a4a" stroke-width="1.2"/>
<rect x="228.55" y="273.7" width="7.5" height="24.4" fill="#00c872" stroke="#1e5a3a" stroke-width="1.1"/>
<line x1="246.1" x2="246.1" y1="273.0" y2="299.0" stroke="#2f6a4a" stroke-width="1.2"/>
<rect x="241.8" y="286.7" width="8.6" height="2.2" fill="#5e1a14"/>
<line x1="258.5" x2="258.5" y1="268.0" y2="294.0" stroke="#2f6a4a" stroke-width="1.2"/>
<rect x="254.75" y="277.7" width="7.5" height="10.3" fill="#00c872" stroke="#1e5a3a" stroke-width="1.1"/>
<line x1="271.2" x2="271.2" y1="268.2" y2="341.0" stroke="#2f6a4a" stroke-width="1.2"/>
<rect x="267.45" y="277.7" width="7.5" height="27.0" fill="#f9645a" stroke="#6a1c16" stroke-width="1.1"/>
<line x1="283.5" x2="283.5" y1="304.3" y2="356.9" stroke="#2f6a4a" stroke-width="1.2"/>
<rect x="279.75" y="304.8" width="7.5" height="16.1" fill="#f9645a" stroke="#6a1c16" stroke-width="1.1"/>
<line x1="296.2" x2="296.2" y1="276.6" y2="346.9" stroke="#2f6a4a" stroke-width="1.2"/>
<rect x="292.45" y="321.1" width="7.5" height="8.5" fill="#f9645a" stroke="#6a1c16" stroke-width="1.1"/>
<line x1="308.5" x2="308.5" y1="329.4" y2="358.0" stroke="#2f6a4a" stroke-width="1.2"/>
<rect x="304.75" y="329.9" width="7.5" height="26.2" fill="#f9645a" stroke="#6a1c16" stroke-width="1.1"/>
<line x1="322.2" x2="322.2" y1="355.5" y2="375.9" stroke="#2f6a4a" stroke-width="1.2"/>
<rect x="318.45" y="356.0" width="7.5" height="14.9" fill="#f9645a" stroke="#6a1c16" stroke-width="1.1"/>
<line x1="334.8" x2="334.8" y1="382.0" y2="410.5" stroke="#2f6a4a" stroke-width="1.2"/>
<rect x="331.05" y="385.0" width="7.5" height="8.4" fill="#f9645a" stroke="#6a1c16" stroke-width="1.1"/>
<line x1="347.4" x2="347.4" y1="395.7" y2="450.3" stroke="#2f6a4a" stroke-width="1.2"/>
<rect x="343.65" y="411.3" width="7.5" height="14.3" fill="#00c872" stroke="#1e5a3a" stroke-width="1.1"/>
<line x1="359.8" x2="359.8" y1="413.5" y2="466.7" stroke="#2f6a4a" stroke-width="1.2"/>
<rect x="356.05" y="414.0" width="7.5" height="10.1" fill="#f9645a" stroke="#6a1c16" stroke-width="1.1"/>
<line x1="372.3" x2="372.3" y1="399.4" y2="452.9" stroke="#2f6a4a" stroke-width="1.2"/>
<rect x="368.55" y="425.1" width="7.5" height="4.2" fill="#f9645a" stroke="#6a1c16" stroke-width="1.1"/>
<line x1="385.0" x2="385.0" y1="423.2" y2="462.5" stroke="#2f6a4a" stroke-width="1.2"/>
<rect x="381.25" y="431.5" width="7.5" height="29.8" fill="#00c872" stroke="#1e5a3a" stroke-width="1.1"/>
<line x1="398.6" x2="398.6" y1="355.5" y2="431.4" stroke="#2f6a4a" stroke-width="1.2"/>
<rect x="394.85" y="362.8" width="7.5" height="68.1" fill="#00c872" stroke="#1e5a3a" stroke-width="1.1"/>
<line x1="411.2" x2="411.2" y1="348.0" y2="434.1" stroke="#2f6a4a" stroke-width="1.2"/>
<rect x="407.45" y="356.3" width="7.5" height="39.5" fill="#f9645a" stroke="#6a1c16" stroke-width="1.1"/>
<line x1="423.6" x2="423.6" y1="380.2" y2="405.6" stroke="#2f6a4a" stroke-width="1.2"/>
<rect x="419.85" y="394.0" width="7.5" height="1.8" fill="#00c872" stroke="#1e5a3a" stroke-width="1.1"/>
<line x1="436.1" x2="436.1" y1="368.2" y2="398.2" stroke="#2f6a4a" stroke-width="1.2"/>
<rect x="432.35" y="383.8" width="7.5" height="9.6" fill="#00c872" stroke="#1e5a3a" stroke-width="1.1"/>
<line x1="448.5" x2="448.5" y1="359.2" y2="411.6" stroke="#2f6a4a" stroke-width="1.2"/>
<rect x="444.75" y="383.8" width="7.5" height="17.0" fill="#f9645a" stroke="#6a1c16" stroke-width="1.1"/>
<line x1="461.1" x2="461.1" y1="373.4" y2="426.7" stroke="#2f6a4a" stroke-width="1.2"/>
<rect x="457.35" y="411.3" width="7.5" height="1.9" fill="#00c872" stroke="#1e5a3a" stroke-width="1.1"/>
<line x1="475.0" x2="475.0" y1="376.9" y2="411.6" stroke="#2f6a4a" stroke-width="1.2"/>
<rect x="471.25" y="388.8" width="7.5" height="22.3" fill="#00c872" stroke="#1e5a3a" stroke-width="1.1"/>
<line x1="487.5" x2="487.5" y1="368.2" y2="405.4" stroke="#2f6a4a" stroke-width="1.2"/>
<rect x="483.75" y="376.4" width="7.5" height="9.5" fill="#f9645a" stroke="#6a1c16" stroke-width="1.1"/>
<line x1="499.8" x2="499.8" y1="365.4" y2="393.9" stroke="#2f6a4a" stroke-width="1.2"/>
<rect x="496.05" y="389.0" width="7.5" height="2.9" fill="#00c872" stroke="#1e5a3a" stroke-width="1.1"/>
<line x1="512.3" x2="512.3" y1="375.7" y2="395.2" stroke="#2f6a4a" stroke-width="1.2"/>
<rect x="508.55" y="387.8" width="7.5" height="5.2" fill="#00c872" stroke="#1e5a3a" stroke-width="1.1"/>
<line x1="524.9" x2="524.9" y1="367.1" y2="404.0" stroke="#2f6a4a" stroke-width="1.2"/>
<rect x="521.15" y="376.4" width="7.5" height="1.7" fill="#f9645a" stroke="#6a1c16" stroke-width="1.1"/>
<line x1="537.4" x2="537.4" y1="370.6" y2="389.1" stroke="#2f6a4a" stroke-width="1.2"/>
<rect x="533.65" y="379.0" width="7.5" height="6.9" fill="#00c872" stroke="#1e5a3a" stroke-width="1.1"/>
<line x1="549.7" x2="549.7" y1="356.2" y2="367.5" stroke="#2f6a4a" stroke-width="1.2"/>
<rect x="545.95" y="358.9" width="7.5" height="8.1" fill="#00c872" stroke="#1e5a3a" stroke-width="1.1"/>
<line x1="563.6" x2="563.6" y1="268.3" y2="335.4" stroke="#2f6a4a" stroke-width="1.2"/>
<rect x="559.3" y="319.2" width="8.6" height="2.2" fill="#1e5a3a"/>
<line x1="575.9" x2="575.9" y1="301.6" y2="325.5" stroke="#2f6a4a" stroke-width="1.2"/>
<rect x="571.6" y="305.3" width="8.6" height="2.2" fill="#5e1a14"/>
<line x1="588.4" x2="588.4" y1="289.5" y2="320.3" stroke="#2f6a4a" stroke-width="1.2"/>
<rect x="584.65" y="292.9" width="7.5" height="12.9" fill="#00c872" stroke="#1e5a3a" stroke-width="1.1"/>
<line x1="601.0" x2="601.0" y1="278.2" y2="326.7" stroke="#2f6a4a" stroke-width="1.2"/>
<rect x="597.25" y="282.7" width="7.5" height="23.1" fill="#f9645a" stroke="#6a1c16" stroke-width="1.1"/>
<line x1="613.5" x2="613.5" y1="277.3" y2="346.1" stroke="#2f6a4a" stroke-width="1.2"/>
<rect x="609.75" y="277.8" width="7.5" height="67.8" fill="#f9645a" stroke="#6a1c16" stroke-width="1.1"/>
<line x1="626.1" x2="626.1" y1="287.1" y2="346.1" stroke="#2f6a4a" stroke-width="1.2"/>
<rect x="622.35" y="303.8" width="7.5" height="41.8" fill="#00c872" stroke="#1e5a3a" stroke-width="1.1"/>
<line x1="639.8" x2="639.8" y1="273.0" y2="335.8" stroke="#2f6a4a" stroke-width="1.2"/>
<rect x="636.05" y="287.8" width="7.5" height="15.3" fill="#f9645a" stroke="#6a1c16" stroke-width="1.1"/>
<line x1="652.1" x2="652.1" y1="281.9" y2="326.9" stroke="#2f6a4a" stroke-width="1.2"/>
<rect x="648.35" y="304.1" width="7.5" height="13.9" fill="#f9645a" stroke="#6a1c16" stroke-width="1.1"/>
<line x1="664.8" x2="664.8" y1="315.8" y2="346.7" stroke="#2f6a4a" stroke-width="1.2"/>
<rect x="661.05" y="316.3" width="7.5" height="15.6" fill="#f9645a" stroke="#6a1c16" stroke-width="1.1"/>
<line x1="677.4" x2="677.4" y1="316.5" y2="347.7" stroke="#2f6a4a" stroke-width="1.2"/>
<rect x="673.65" y="328.9" width="7.5" height="3.0" fill="#00c872" stroke="#1e5a3a" stroke-width="1.1"/>
<line x1="689.7" x2="689.7" y1="318.3" y2="336.6" stroke="#2f6a4a" stroke-width="1.2"/>
<rect x="685.95" y="318.8" width="7.5" height="17.3" fill="#00c872" stroke="#1e5a3a" stroke-width="1.1"/>
<line x1="702.4" x2="702.4" y1="287.3" y2="294.2" stroke="#2f6a4a" stroke-width="1.2"/>
<rect x="698.65" y="287.8" width="7.5" height="4.4" fill="#f9645a" stroke="#6a1c16" stroke-width="1.1"/>
<line x1="716.0" x2="716.0" y1="281.9" y2="299.1" stroke="#2f6a4a" stroke-width="1.2"/>
<rect x="711.7" y="290.6" width="8.6" height="2.2" fill="#1e5a3a"/>
<line x1="728.7" x2="728.7" y1="292.0" y2="339.3" stroke="#2f6a4a" stroke-width="1.2"/>
<rect x="724.95" y="295.0" width="7.5" height="28.0" fill="#f9645a" stroke="#6a1c16" stroke-width="1.1"/>
<line x1="741.0" x2="741.0" y1="298.7" y2="354.0" stroke="#2f6a4a" stroke-width="1.2"/>
<rect x="737.25" y="299.2" width="7.5" height="36.7" fill="#f9645a" stroke="#6a1c16" stroke-width="1.1"/>
<line x1="753.5" x2="753.5" y1="289.6" y2="363.9" stroke="#2f6a4a" stroke-width="1.2"/>
<rect x="749.75" y="301.3" width="7.5" height="34.4" fill="#00c872" stroke="#1e5a3a" stroke-width="1.1"/>
<line x1="766.1" x2="766.1" y1="258.2" y2="286.7" stroke="#2f6a4a" stroke-width="1.2"/>
<rect x="762.35" y="266.6" width="7.5" height="10.2" fill="#00c872" stroke="#1e5a3a" stroke-width="1.1"/>
<line x1="778.4" x2="778.4" y1="246.8" y2="266.2" stroke="#2f6a4a" stroke-width="1.2"/>
<rect x="774.65" y="252.9" width="7.5" height="12.8" fill="#00c872" stroke="#1e5a3a" stroke-width="1.1"/>
<line x1="792.4" x2="792.4" y1="257.2" y2="432.6" stroke="#2f6a4a" stroke-width="1.2"/>
<rect x="788.65" y="257.7" width="7.5" height="134.1" fill="#f9645a" stroke="#6a1c16" stroke-width="1.1"/>
<line x1="804.7" x2="804.7" y1="375.6" y2="414.1" stroke="#2f6a4a" stroke-width="1.2"/>
<rect x="800.95" y="384.9" width="7.5" height="10.6" fill="#00c872" stroke="#1e5a3a" stroke-width="1.1"/>
<line x1="817.1" x2="817.1" y1="400.5" y2="488.9" stroke="#2f6a4a" stroke-width="1.2"/>
<rect x="813.35" y="401.0" width="7.5" height="9.8" fill="#f9645a" stroke="#6a1c16" stroke-width="1.1"/>
<line x1="829.8" x2="829.8" y1="365.8" y2="396.0" stroke="#2f6a4a" stroke-width="1.2"/>
<rect x="826.05" y="366.3" width="7.5" height="29.2" fill="#00c872" stroke="#1e5a3a" stroke-width="1.1"/>
<line x1="842.2" x2="842.2" y1="355.6" y2="405.3" stroke="#2f6a4a" stroke-width="1.2"/>
<rect x="838.45" y="366.7" width="7.5" height="26.4" fill="#f9645a" stroke="#6a1c16" stroke-width="1.1"/>
<line x1="854.8" x2="854.8" y1="365.2" y2="393.6" stroke="#2f6a4a" stroke-width="1.2"/>
<rect x="851.05" y="374.3" width="7.5" height="18.8" fill="#00c872" stroke="#1e5a3a" stroke-width="1.1"/>
<line x1="868.6" x2="868.6" y1="369.5" y2="435.4" stroke="#2f6a4a" stroke-width="1.2"/>
<rect x="864.85" y="370.0" width="7.5" height="28.2" fill="#f9645a" stroke="#6a1c16" stroke-width="1.1"/>
<line x1="881.2" x2="881.2" y1="398.7" y2="440.6" stroke="#2f6a4a" stroke-width="1.2"/>
<rect x="877.45" y="399.2" width="7.5" height="12.5" fill="#f9645a" stroke="#6a1c16" stroke-width="1.1"/>
<line x1="893.6" x2="893.6" y1="412.2" y2="463.6" stroke="#2f6a4a" stroke-width="1.2"/>
<rect x="889.85" y="412.7" width="7.5" height="28.2" fill="#f9645a" stroke="#6a1c16" stroke-width="1.1"/>
<line x1="905.9" x2="905.9" y1="430.2" y2="477.8" stroke="#2f6a4a" stroke-width="1.2"/>
<rect x="902.15" y="441.5" width="7.5" height="16.1" fill="#f9645a" stroke="#6a1c16" stroke-width="1.1"/>
<line x1="918.7" x2="918.7" y1="458.2" y2="497.3" stroke="#2f6a4a" stroke-width="1.2"/>
<rect x="914.95" y="470.0" width="7.5" height="18.0" fill="#f9645a" stroke="#6a1c16" stroke-width="1.1"/>
<line x1="931.2" x2="931.2" y1="475.3" y2="488.5" stroke="#2f6a4a" stroke-width="1.2"/>
<rect x="927.45" y="483.8" width="7.5" height="4.2" fill="#00c872" stroke="#1e5a3a" stroke-width="1.1"/>
<line x1="943.6" x2="943.6" y1="455.5" y2="505.4" stroke="#2f6a4a" stroke-width="1.2"/>
<rect x="939.85" y="489.8" width="7.5" height="11.1" fill="#f9645a" stroke="#6a1c16" stroke-width="1.1"/>
<line x1="957.3" x2="957.3" y1="489.3" y2="520.4" stroke="#2f6a4a" stroke-width="1.2"/>
<rect x="953.0" y="499.9" width="8.6" height="2.2" fill="#1e5a3a"/>
<line x1="969.8" x2="969.8" y1="485.3" y2="522.6" stroke="#2f6a4a" stroke-width="1.2"/>
<rect x="966.05" y="492.5" width="7.5" height="8.4" fill="#00c872" stroke="#1e5a3a" stroke-width="1.1"/>
<line x1="982.4" x2="982.4" y1="469.5" y2="497.3" stroke="#2f6a4a" stroke-width="1.2"/>
<rect x="978.65" y="473.7" width="7.5" height="18.3" fill="#00c872" stroke="#1e5a3a" stroke-width="1.1"/>
<line x1="994.8" x2="994.8" y1="411.6" y2="472.4" stroke="#2f6a4a" stroke-width="1.2"/>
<rect x="991.05" y="451.2" width="7.5" height="18.6" fill="#00c872" stroke="#1e5a3a" stroke-width="1.1"/>
<line x1="1007.3" x2="1007.3" y1="450.7" y2="459.2" stroke="#2f6a4a" stroke-width="1.2"/>
<rect x="1003.55" y="451.2" width="7.5" height="4.6" fill="#f9645a" stroke="#6a1c16" stroke-width="1.1"/>
<line x1="1019.8" x2="1019.8" y1="456.6" y2="512.6" stroke="#2f6a4a" stroke-width="1.2"/>
<rect x="1016.05" y="464.9" width="7.5" height="9.4" fill="#00c872" stroke="#1e5a3a" stroke-width="1.1"/>
<line x1="1033.4" x2="1033.4" y1="374.2" y2="456.3" stroke="#2f6a4a" stroke-width="1.2"/>
<rect x="1029.65" y="408.8" width="7.5" height="47.0" fill="#00c872" stroke="#1e5a3a" stroke-width="1.1"/>
<line x1="1046.1" x2="1046.1" y1="399.4" y2="426.6" stroke="#2f6a4a" stroke-width="1.2"/>
<rect x="1042.35" y="402.6" width="7.5" height="10.4" fill="#f9645a" stroke="#6a1c16" stroke-width="1.1"/>
<line x1="1058.4" x2="1058.4" y1="380.4" y2="416.3" stroke="#2f6a4a" stroke-width="1.2"/>
<rect x="1054.65" y="388.7" width="7.5" height="27.1" fill="#00c872" stroke="#1e5a3a" stroke-width="1.1"/>
<line x1="1071.2" x2="1071.2" y1="325.4" y2="388.7" stroke="#2f6a4a" stroke-width="1.2"/>
<rect x="1067.45" y="343.8" width="7.5" height="44.4" fill="#00c872" stroke="#1e5a3a" stroke-width="1.1"/>
<line x1="1083.5" x2="1083.5" y1="266.7" y2="328.7" stroke="#2f6a4a" stroke-width="1.2"/>
<rect x="1079.75" y="279.9" width="7.5" height="48.3" fill="#00c872" stroke="#1e5a3a" stroke-width="1.1"/>
<line x1="1096.0" x2="1096.0" y1="248.2" y2="286.4" stroke="#2f6a4a" stroke-width="1.2"/>
<rect x="1092.25" y="268.7" width="7.5" height="10.6" fill="#00c872" stroke="#1e5a3a" stroke-width="1.1"/>
<line x1="1109.8" x2="1109.8" y1="282.3" y2="310.6" stroke="#2f6a4a" stroke-width="1.2"/>
<rect x="1106.05" y="282.8" width="7.5" height="3.1" fill="#f9645a" stroke="#6a1c16" stroke-width="1.1"/>
<line x1="1122.4" x2="1122.4" y1="284.6" y2="305.4" stroke="#2f6a4a" stroke-width="1.2"/>
<rect x="1118.1" y="285.7" width="8.6" height="2.2" fill="#5e1a14"/>
<line x1="1134.6" x2="1134.6" y1="286.8" y2="306.1" stroke="#2f6a4a" stroke-width="1.2"/>
<rect x="1130.85" y="291.3" width="7.5" height="14.3" fill="#00c872" stroke="#1e5a3a" stroke-width="1.1"/>
<line x1="1147.5" x2="1147.5" y1="297.2" y2="320.2" stroke="#2f6a4a" stroke-width="1.2"/>
<rect x="1143.75" y="297.7" width="7.5" height="7.9" fill="#f9645a" stroke="#6a1c16" stroke-width="1.1"/>
<line x1="1159.8" x2="1159.8" y1="299.7" y2="343.7" stroke="#2f6a4a" stroke-width="1.2"/>
<rect x="1156.05" y="300.2" width="7.5" height="10.7" fill="#00c872" stroke="#1e5a3a" stroke-width="1.1"/>
<line x1="1172.3" x2="1172.3" y1="248.2" y2="335.8" stroke="#2f6a4a" stroke-width="1.2"/>
<rect x="1168.55" y="248.7" width="7.5" height="48.3" fill="#00c872" stroke="#1e5a3a" stroke-width="1.1"/>
<line x1="1186.2" x2="1186.2" y1="248.2" y2="294.1" stroke="#2f6a4a" stroke-width="1.2"/>
<rect x="1182.45" y="248.7" width="7.5" height="24.5" fill="#f9645a" stroke="#6a1c16" stroke-width="1.1"/>
<line x1="1198.7" x2="1198.7" y1="265.4" y2="315.3" stroke="#2f6a4a" stroke-width="1.2"/>
<rect x="1194.95" y="272.8" width="7.5" height="13.9" fill="#f9645a" stroke="#6a1c16" stroke-width="1.1"/>
<line x1="1210.9" x2="1210.9" y1="294.1" y2="352.6" stroke="#2f6a4a" stroke-width="1.2"/>
<rect x="1207.15" y="294.6" width="7.5" height="50.0" fill="#f9645a" stroke="#6a1c16" stroke-width="1.1"/>
<line x1="1223.6" x2="1223.6" y1="321.9" y2="356.6" stroke="#2f6a4a" stroke-width="1.2"/>
<rect x="1219.85" y="336.3" width="7.5" height="8.3" fill="#00c872" stroke="#1e5a3a" stroke-width="1.1"/>
<line x1="1236.1" x2="1236.1" y1="264.4" y2="335.2" stroke="#2f6a4a" stroke-width="1.2"/>
<rect x="1232.35" y="272.8" width="7.5" height="61.9" fill="#00c872" stroke="#1e5a3a" stroke-width="1.1"/>
<line x1="1248.6" x2="1248.6" y1="228.1" y2="291.6" stroke="#2f6a4a" stroke-width="1.2"/>
<rect x="1244.85" y="246.5" width="7.5" height="25.3" fill="#00c872" stroke="#1e5a3a" stroke-width="1.1"/>
<line x1="1262.4" x2="1262.4" y1="206.8" y2="246.2" stroke="#2f6a4a" stroke-width="1.2"/>
<rect x="1258.65" y="225.3" width="7.5" height="20.4" fill="#00c872" stroke="#1e5a3a" stroke-width="1.1"/>
<line x1="1274.9" x2="1274.9" y1="213.8" y2="276.2" stroke="#2f6a4a" stroke-width="1.2"/>
<rect x="1271.15" y="225.5" width="7.5" height="6.4" fill="#f9645a" stroke="#6a1c16" stroke-width="1.1"/>
<line x1="1287.3" x2="1287.3" y1="176.4" y2="273.0" stroke="#2f6a4a" stroke-width="1.2"/>
<rect x="1283.55" y="207.5" width="7.5" height="37.9" fill="#f9645a" stroke="#6a1c16" stroke-width="1.1"/>
<line x1="1299.9" x2="1299.9" y1="245.6" y2="276.5" stroke="#2f6a4a" stroke-width="1.2"/>
<rect x="1296.15" y="246.1" width="7.5" height="20.7" fill="#f9645a" stroke="#6a1c16" stroke-width="1.1"/>
<line x1="1312.4" x2="1312.4" y1="239.2" y2="272.7" stroke="#2f6a4a" stroke-width="1.2"/>
<rect x="1308.65" y="242.6" width="7.5" height="13.3" fill="#00c872" stroke="#1e5a3a" stroke-width="1.1"/>
<line x1="1324.9" x2="1324.9" y1="252.9" y2="300.2" stroke="#2f6a4a" stroke-width="1.2"/>
<rect x="1321.15" y="263.8" width="7.5" height="19.1" fill="#f9645a" stroke="#6a1c16" stroke-width="1.1"/>
<line x1="1337.5" x2="1337.5" y1="266.7" y2="398.6" stroke="#2f6a4a" stroke-width="1.2"/>
<rect x="1333.75" y="283.9" width="7.5" height="57.0" fill="#f9645a" stroke="#6a1c16" stroke-width="1.1"/>
<line x1="1351.2" x2="1351.2" y1="339.2" y2="358.7" stroke="#2f6a4a" stroke-width="1.2"/>
<rect x="1347.45" y="341.5" width="7.5" height="8.0" fill="#f9645a" stroke="#6a1c16" stroke-width="1.1"/>
<line x1="1363.5" x2="1363.5" y1="325.2" y2="358.7" stroke="#2f6a4a" stroke-width="1.2"/>
<rect x="1359.75" y="328.9" width="7.5" height="4.2" fill="#f9645a" stroke="#6a1c16" stroke-width="1.1"/>
<line x1="1375.9" x2="1375.9" y1="333.2" y2="363.7" stroke="#2f6a4a" stroke-width="1.2"/>
<rect x="1372.15" y="350.5" width="7.5" height="5.3" fill="#f9645a" stroke="#6a1c16" stroke-width="1.1"/>
<line x1="1388.4" x2="1388.4" y1="305.4" y2="372.6" stroke="#2f6a4a" stroke-width="1.2"/>
<rect x="1384.65" y="336.3" width="7.5" height="16.7" fill="#f9645a" stroke="#6a1c16" stroke-width="1.1"/>
<line x1="1401.0" x2="1401.0" y1="325.2" y2="353.5" stroke="#2f6a4a" stroke-width="1.2"/>
<rect x="1397.25" y="335.0" width="7.5" height="18.0" fill="#00c872" stroke="#1e5a3a" stroke-width="1.1"/>
<line x1="1413.5" x2="1413.5" y1="291.8" y2="328.4" stroke="#2f6a4a" stroke-width="1.2"/>
<rect x="1409.75" y="309.9" width="7.5" height="18.0" fill="#00c872" stroke="#1e5a3a" stroke-width="1.1"/>
<line x1="1427.4" x2="1427.4" y1="120.0" y2="292.4" stroke="#2f6a4a" stroke-width="1.2"/>
<rect x="1423.65" y="169.0" width="7.5" height="122.9" fill="#00c872" stroke="#1e5a3a" stroke-width="1.1"/>
<line x1="1439.8" x2="1439.8" y1="197.1" y2="242.2" stroke="#2f6a4a" stroke-width="1.2"/>
<rect x="1436.05" y="211.2" width="7.5" height="14.8" fill="#f9645a" stroke="#6a1c16" stroke-width="1.1"/>
<line x1="1452.5" x2="1452.5" y1="227.2" y2="266.5" stroke="#2f6a4a" stroke-width="1.2"/>
<rect x="1448.75" y="244.1" width="7.5" height="16.0" fill="#00c872" stroke="#1e5a3a" stroke-width="1.1"/>
<line x1="1465.0" x2="1465.0" y1="248.4" y2="258.7" stroke="#2f6a4a" stroke-width="1.2"/>
<rect x="1461.25" y="248.9" width="7.5" height="4.1" fill="#f9645a" stroke="#6a1c16" stroke-width="1.1"/>
<line x1="1477.5" x2="1477.5" y1="267.2" y2="290.7" stroke="#2f6a4a" stroke-width="1.2"/>
<rect x="1473.75" y="267.7" width="7.5" height="17.8" fill="#f9645a" stroke="#6a1c16" stroke-width="1.1"/>
<line x1="1489.8" x2="1489.8" y1="238.8" y2="335.3" stroke="#2f6a4a" stroke-width="1.2"/>
<rect x="1486.05" y="276.4" width="7.5" height="10.4" fill="#00c872" stroke="#1e5a3a" stroke-width="1.1"/>
<line x1="1503.5" x2="1503.5" y1="246.3" y2="275.3" stroke="#2f6a4a" stroke-width="1.2"/>
<rect x="1499.2" y="257.8" width="8.6" height="2.2" fill="#5e1a14"/>
<line x1="1516.1" x2="1516.1" y1="295.8" y2="346.2" stroke="#2f6a4a" stroke-width="1.2"/>
<rect x="1512.35" y="296.3" width="7.5" height="49.4" fill="#f9645a" stroke="#6a1c16" stroke-width="1.1"/>
<line x1="1528.5" x2="1528.5" y1="330.4" y2="359.3" stroke="#2f6a4a" stroke-width="1.2"/>
<rect x="1524.2" y="343.8" width="8.6" height="2.2" fill="#1e5a3a"/>
<line x1="1541.0" x2="1541.0" y1="290.4" y2="321.1" stroke="#2f6a4a" stroke-width="1.2"/>
<rect x="1537.25" y="309.1" width="7.5" height="11.5" fill="#00c872" stroke="#1e5a3a" stroke-width="1.1"/>
<line x1="1553.6" x2="1553.6" y1="272.1" y2="310.2" stroke="#2f6a4a" stroke-width="1.2"/>
<rect x="1549.85" y="282.7" width="7.5" height="27.0" fill="#00c872" stroke="#1e5a3a" stroke-width="1.1"/>
<line x1="1566.1" x2="1566.1" y1="259.0" y2="293.9" stroke="#2f6a4a" stroke-width="1.2"/>
<rect x="1562.35" y="272.6" width="7.5" height="4.4" fill="#f9645a" stroke="#6a1c16" stroke-width="1.1"/>
<line x1="1580.0" x2="1580.0" y1="205.0" y2="277.4" stroke="#2f6a4a" stroke-width="1.2"/>
<rect x="1576.25" y="225.3" width="7.5" height="51.6" fill="#00c872" stroke="#1e5a3a" stroke-width="1.1"/>
<circle cx="1542.3" cy="269.7" r="9.5" fill="#1a8cf0"/>
<text x="1542.6" y="274.5" text-anchor="middle" font-family="DejaVu Sans, sans-serif" font-weight="bold" font-size="13" fill="#fff">P</text>
<circle cx="1529.7" cy="309.8" r="9.5" fill="#1a8cf0"/>
<text x="1530.0" y="314.6" text-anchor="middle" font-family="DejaVu Sans, sans-serif" font-weight="bold" font-size="13" fill="#fff">P</text>
<line x1="8" x2="1784" y1="224.8" y2="224.8" stroke="#6a8ee8" stroke-width="1.3" stroke-dasharray="2 1"/>
<line x1="918.8" y1="375" x2="994.6" y2="228" stroke="#00e8f2" stroke-width="3"/>
<line x1="1046" y1="225.9" x2="1121.8" y2="78.9" stroke="#00e8f2" stroke-width="3"/>
<path d="M1287.4 111 V165.6 M1275.6 147.1 L1287.4 165.6 L1299.2 147.1" fill="none" stroke="#000" stroke-width="3" stroke-linecap="butt" stroke-linejoin="round"/>
<path d="M1426.7 66.1 V120.0 M1414.9 102.2 L1426.7 120.0 L1438.5 102.2" fill="none" stroke="#000" stroke-width="3" stroke-linecap="butt" stroke-linejoin="round"/>
<path d="M1579.4 116.1 V170.3 M1567.6 152.4 L1579.4 170.3 L1591.2 152.4" fill="none" stroke="#000" stroke-width="3" stroke-linecap="butt" stroke-linejoin="round"/>
</g>
<g clip-path="url(#cr)">
<rect x="8" y="689.5" width="1776" height="82" fill="#f2e5f2"/>
<line x1="8" x2="1784" y1="689.3" y2="689.3" stroke="#898290" stroke-width="1.2" stroke-dasharray="6 5"/>
<line x1="8" x2="1784" y1="771.6" y2="771.6" stroke="#898290" stroke-width="1.2" stroke-dasharray="6 5"/>
<polyline points="17.4,740.4 29.8,740.4 42.3,725.3 54.8,721.9 67.3,710.2 81.1,699.2 93.4,685.9 106.0,675.5 118.5,674.4 131.0,674.4 143.5,671.4 157.4,670.1 169.8,668.0 182.4,675.5 194.8,674.4 207.3,691.7 219.8,701.4 232.3,694.3 246.1,702.9 258.5,699.2 271.2,713.9 283.5,721.9 296.2,725.3 308.5,736.6 322.2,742.4 334.8,751.7 347.4,756.8 359.8,761.8 372.3,762.9 385.0,762.9 398.6,729.5 411.2,741.7 423.6,740.4 436.1,735.5 448.5,743.0 461.1,745.6 475.0,735.5 487.5,734.2 499.8,735.5 512.3,735.5 524.9,730.5 537.4,730.5 549.7,719.1 563.6,702.9 575.9,699.2 588.4,694.3 601.0,704.6 613.5,725.1 626.1,709.4 639.8,709.4 652.1,716.5 664.8,724.0 677.4,721.5 689.7,718.0 702.4,707.9 716.0,706.8 728.7,725.1 741.0,730.5 753.5,716.9 766.1,704.2 778.4,700.3 792.4,749.1 804.7,746.9 817.1,752.5 829.8,737.8 842.2,745.6 854.8,739.1 868.6,745.6 881.2,749.3 893.6,755.5 905.9,759.6 918.7,765.7 931.2,762.9 943.6,766.8 957.3,766.8 969.8,762.9 982.4,753.8 994.8,744.1 1007.3,745.6 1019.8,749.3 1033.4,726.6 1046.1,729.4 1058.4,720.2 1071.2,706.3 1083.5,693.2 1096.0,690.6 1109.8,698.1 1122.4,699.4 1134.6,700.3 1147.5,707.9 1159.8,705.5 1172.3,693.2 1186.2,702.6 1198.7,710.5 1210.9,730.4 1223.6,728.2 1236.1,710.5 1248.6,703.9 1262.4,700.3 1274.9,703.0 1287.3,708.2 1299.9,716.6 1312.4,709.4 1324.9,724.8 1337.5,740.6 1351.2,742.9 1363.5,738.1 1375.9,744.5 1388.4,742.9 1401.0,736.6 1413.5,727.9 1427.4,696.9 1439.8,713.2 1452.5,718.0 1465.0,720.7 1477.5,729.1 1489.8,725.9 1503.5,723.0 1516.1,742.9 1528.5,742.9 1541.0,733.2 1553.6,726.8 1566.1,725.7 1580.0,714.4" fill="none" stroke="#a040b0" stroke-width="1"/>
</g>
<line x1="8" x2="1847" y1="654.5" y2="654.5" stroke="#555" stroke-width="1"/>
<line x1="1784" x2="1784" y1="58.4" y2="780" stroke="#888" stroke-width="1.3"/>
<line x1="8" x2="1784" y1="779.8" y2="779.8" stroke="#808080" stroke-width="1.8"/>
<line x1="145.0" x2="145.0" y1="780" y2="784.5" stroke="#808080" stroke-width="1.3"/>
<line x1="310.0" x2="310.0" y1="780" y2="784.5" stroke="#808080" stroke-width="1.3"/>
<line x1="412.3" x2="412.3" y1="780" y2="784.5" stroke="#808080" stroke-width="1.3"/>
<line x1="577.4" x2="577.4" y1="780" y2="784.5" stroke="#808080" stroke-width="1.3"/>
<line x1="678.7" x2="678.7" y1="780" y2="784.5" stroke="#808080" stroke-width="1.3"/>
<line x1="855.8" x2="855.8" y1="780" y2="784.5" stroke="#808080" stroke-width="1.3"/>
<line x1="958.6" x2="958.6" y1="780" y2="784.5" stroke="#808080" stroke-width="1.3"/>
<line x1="1135.7" x2="1135.7" y1="780" y2="784.5" stroke="#808080" stroke-width="1.3"/>
<line x1="1237.5" x2="1237.5" y1="780" y2="784.5" stroke="#808080" stroke-width="1.3"/>
<line x1="1414.6" x2="1414.6" y1="780" y2="784.5" stroke="#808080" stroke-width="1.3"/>
<line x1="1517.4" x2="1517.4" y1="780" y2="784.5" stroke="#808080" stroke-width="1.3"/>
<line x1="1669.9" x2="1669.9" y1="780" y2="784.5" stroke="#808080" stroke-width="1.3"/>
<line x1="1771.3" x2="1771.3" y1="780" y2="784.5" stroke="#808080" stroke-width="1.3"/>
<text x="144" y="798" text-anchor="middle" font-family="Liberation Sans, Arial, sans-serif" font-size="13.5" fill="#555">Sep</text>
<text x="1135.7" y="798" text-anchor="middle" font-family="Liberation Sans, Arial, sans-serif" font-size="13.5" font-weight="bold" fill="#444">2022</text>
<g clip-path="url(#ca)">
<line x1="1785" x2="1789" y1="654.4" y2="654.4" stroke="#888" stroke-width="1"/>
<text x="1792.6" y="659.2" font-family="Liberation Sans, Arial, sans-serif" font-size="13.6" fill="#777">1000.0</text>
<line x1="1785" x2="1789" y1="614.7" y2="614.7" stroke="#888" stroke-width="1"/>
<text x="1792.6" y="619.5" font-family="Liberation Sans, Arial, sans-serif" font-size="13.6" fill="#777">1040.0</text>
<line x1="1785" x2="1789" y1="575.0" y2="575.0" stroke="#888" stroke-width="1"/>
<text x="1792.6" y="579.8" font-family="Liberation Sans, Arial, sans-serif" font-size="13.6" fill="#777">1080.0</text>
<line x1="1785" x2="1789" y1="535.3" y2="535.3" stroke="#888" stroke-width="1"/>
<text x="1792.6" y="540.1" font-family="Liberation Sans, Arial, sans-serif" font-size="13.6" fill="#777">1120.0</text>
<line x1="1785" x2="1789" y1="495.6" y2="495.6" stroke="#888" stroke-width="1"/>
<text x="1792.6" y="500.4" font-family="Liberation Sans, Arial, sans-serif" font-size="13.6" fill="#777">1160.0</text>
<line x1="1785" x2="1789" y1="455.9" y2="455.9" stroke="#888" stroke-width="1"/>
<text x="1792.6" y="460.7" font-family="Liberation Sans, Arial, sans-serif" font-size="13.6" fill="#777">1200.0</text>
<line x1="1785" x2="1789" y1="416.2" y2="416.2" stroke="#888" stroke-width="1"/>
<text x="1792.6" y="421.0" font-family="Liberation Sans, Arial, sans-serif" font-size="13.6" fill="#777">1240.0</text>
<line x1="1785" x2="1789" y1="376.5" y2="376.5" stroke="#888" stroke-width="1"/>
<text x="1792.6" y="381.3" font-family="Liberation Sans, Arial, sans-serif" font-size="13.6" fill="#777">1280.0</text>
<line x1="1785" x2="1789" y1="336.7" y2="336.7" stroke="#888" stroke-width="1"/>
<text x="1792.6" y="341.5" font-family="Liberation Sans, Arial, sans-serif" font-size="13.6" fill="#777">1320.0</text>
<line x1="1785" x2="1789" y1="297.0" y2="297.0" stroke="#888" stroke-width="1"/>
<text x="1792.6" y="301.8" font-family="Liberation Sans, Arial, sans-serif" font-size="13.6" fill="#777">1360.0</text>
<line x1="1785" x2="1789" y1="257.3" y2="257.3" stroke="#888" stroke-width="1"/>
<text x="1792.6" y="262.1" font-family="Liberation Sans, Arial, sans-serif" font-size="13.6" fill="#777">1400.0</text>
<line x1="1785" x2="1789" y1="217.6" y2="217.6" stroke="#888" stroke-width="1"/>
<text x="1792.6" y="222.4" font-family="Liberation Sans, Arial, sans-serif" font-size="13.6" fill="#777">1440.0</text>
<line x1="1785" x2="1789" y1="177.9" y2="177.9" stroke="#888" stroke-width="1"/>
<text x="1792.6" y="182.7" font-family="Liberation Sans, Arial, sans-serif" font-size="13.6" fill="#777">1480.0</text>
<line x1="1785" x2="1789" y1="138.2" y2="138.2" stroke="#888" stroke-width="1"/>
<text x="1792.6" y="143.0" font-family="Liberation Sans, Arial, sans-serif" font-size="13.6" fill="#777">1520.0</text>
<line x1="1785" x2="1789" y1="98.5" y2="98.5" stroke="#888" stroke-width="1"/>
<text x="1792.6" y="103.3" font-family="Liberation Sans, Arial, sans-serif" font-size="13.6" fill="#777">1560.0</text>
<line x1="1785" x2="1789" y1="58.8" y2="58.8" stroke="#888" stroke-width="1"/>
<text x="1792.6" y="63.6" font-family="Liberation Sans, Arial, sans-serif" font-size="13.6" fill="#777">1600.0</text>
<line x1="1785" x2="1789" y1="19.1" y2="19.1" stroke="#888" stroke-width="1"/>
<text x="1792.6" y="23.9" font-family="Liberation Sans, Arial, sans-serif" font-size="13.6" fill="#777">1640.0</text>
<rect x="1783.5" y="67.0" width="55" height="20" fill="#000"/>
<line x1="1785" x2="1789" y1="77.0" y2="77.0" stroke="#fff" stroke-opacity="0.7" stroke-width="1"/>
<text x="1792.6" y="81.9" font-family="Liberation Sans, Arial, sans-serif" font-size="13.6" fill="#fff">1582.5</text>
<rect x="1783.5" y="181.2" width="55" height="20" fill="#0000ff"/>
<line x1="1785" x2="1789" y1="191.2" y2="191.2" stroke="#fff" stroke-opacity="0.7" stroke-width="1"/>
<text x="1792.6" y="196.1" font-family="Liberation Sans, Arial, sans-serif" font-size="13.6" fill="#fff">1466.5</text>
<rect x="1783.5" y="215.2" width="55" height="20" fill="#5b7fe5"/>
<line x1="1785" x2="1789" y1="225.2" y2="225.2" stroke="#fff" stroke-opacity="0.7" stroke-width="1"/>
<text x="1792.6" y="230.1" font-family="Liberation Sans, Arial, sans-serif" font-size="13.6" fill="#fff">1432.0</text>
<rect x="1783.5" y="235.5" width="55" height="20" fill="#000"/>
<line x1="1785" x2="1789" y1="245.5" y2="245.5" stroke="#fff" stroke-opacity="0.7" stroke-width="1"/>
<text x="1792.6" y="250.4" font-family="Liberation Sans, Arial, sans-serif" font-size="13.6" fill="#fff">1430.0</text>
<rect x="1783.5" y="274.0" width="55" height="20" fill="#008000"/>
<line x1="1785" x2="1789" y1="284.0" y2="284.0" stroke="#fff" stroke-opacity="0.7" stroke-width="1"/>
<text x="1792.6" y="288.9" font-family="Liberation Sans, Arial, sans-serif" font-size="13.6" fill="#fff">1373.2</text>
<rect x="1783.5" y="294.2" width="55" height="20" fill="#ff0000"/>
<line x1="1785" x2="1789" y1="304.2" y2="304.2" stroke="#fff" stroke-opacity="0.7" stroke-width="1"/>
<text x="1792.6" y="309.1" font-family="Liberation Sans, Arial, sans-serif" font-size="13.6" fill="#fff">1367.1</text>
<rect x="1783.5" y="314.1" width="55" height="20" fill="#ff0000"/>
<line x1="1785" x2="1789" y1="324.1" y2="324.1" stroke="#fff" stroke-opacity="0.7" stroke-width="1"/>
<text x="1792.6" y="329.0" font-family="Liberation Sans, Arial, sans-serif" font-size="13.6" fill="#fff">1362.9</text>
<rect x="1783.5" y="334.3" width="55" height="20" fill="#ff00ff"/>
<line x1="1785" x2="1789" y1="344.3" y2="344.3" stroke="#fff" stroke-opacity="0.7" stroke-width="1"/>
<text x="1792.6" y="349.2" font-family="Liberation Sans, Arial, sans-serif" font-size="13.6" fill="#fff">1340.7</text>
<rect x="1783.5" y="365.3" width="55" height="20" fill="#000"/>
<line x1="1785" x2="1789" y1="375.3" y2="375.3" stroke="#fff" stroke-opacity="0.7" stroke-width="1"/>
<text x="1792.6" y="380.2" font-family="Liberation Sans, Arial, sans-serif" font-size="13.6" fill="#fff">1281.3</text>
<rect x="1783.5" y="388.0" width="55" height="20" fill="#0000ff"/>
<line x1="1785" x2="1789" y1="398.0" y2="398.0" stroke="#fff" stroke-opacity="0.7" stroke-width="1"/>
<text x="1792.6" y="402.9" font-family="Liberation Sans, Arial, sans-serif" font-size="13.6" fill="#fff">1259.2</text>
<rect x="1783.5" y="637.0" width="49" height="17" fill="#000"/>
<line x1="1785" x2="1789" y1="645.5" y2="645.5" stroke="#fff" stroke-opacity="0.7" stroke-width="1"/>
<text x="1792.6" y="651.5" font-family="Liberation Sans, Arial, sans-serif" font-size="13.6" fill="#fff">16.5K</text>
</g>
<line x1="1785" x2="1789" y1="669.2" y2="669.2" stroke="#888" stroke-width="1"/>
<text x="1792.6" y="674.0" font-family="Liberation Sans, Arial, sans-serif" font-size="13.6" fill="#777">80.0000</text>
<line x1="1785" x2="1789" y1="751.7" y2="751.7" stroke="#888" stroke-width="1"/>
<text x="1792.6" y="756.5" font-family="Liberation Sans, Arial, sans-serif" font-size="13.6" fill="#777">40.0000</text>
<rect x="1784" y="705.3" width="63" height="19.4" fill="#800080"/>
<line x1="1785" x2="1789" y1="714.5" y2="714.5" stroke="#fff" stroke-opacity="0.7" stroke-width="1"/>
<text x="1793" y="719.4" font-family="Liberation Sans, Arial, sans-serif" font-size="13.6" fill="#fff">58.3046</text>
<text x="16" y="21.9" font-family="Liberation Sans, Arial, sans-serif" font-size="13" letter-spacing="0.44" fill="#222">Published on Investing.com, 20/Feb/2022 - 15:43:56 GMT, Powered by TradingView.</text>
<text x="16.2" y="45.2" direction="ltr" font-family="DejaVu Sans, sans-serif" font-weight="bold" font-size="14.2" fill="#111">תלאביב ,קבוצת אורון אחזקות והשקעות בעמ, ישראל<tspan font-family="DejaVu Sans Condensed, DejaVu Sans, sans-serif" font-size="14" letter-spacing="-0.5">:ORON, D</tspan></text>
<text x="17.6" y="77.6" font-family="DejaVu Sans, sans-serif" font-size="12.5" fill="#111">BB (20, 2)</text>
<text x="17.6" y="95.5" font-family="DejaVu Sans, sans-serif" font-size="12.5" fill="#111">MA Cross (9, 26)</text>
<text x="17.6" y="113.5" font-family="DejaVu Sans, sans-serif" font-size="12.5" fill="#111">MA (50, close, 0)</text>
<text x="17.6" y="131.4" font-family="DejaVu Sans, sans-serif" font-size="12.5" fill="#111">Volume (20)</text>
<text x="17.6" y="675.4" font-family="DejaVu Sans, sans-serif" font-size="12.5" fill="#111">RSI (14)</text>
<text x="25" y="634" font-family="Liberation Sans, Arial, sans-serif" font-weight="bold" font-size="25.5" fill="#111">Investing<tspan font-weight="normal" font-size="18" fill="#555">.com</tspan></text>
<ellipse cx="101.9" cy="615.3" rx="2.6" ry="3.2" transform="rotate(35 101.9 615.3)" fill="#f5a100"/>
</svg>
</body></html>
